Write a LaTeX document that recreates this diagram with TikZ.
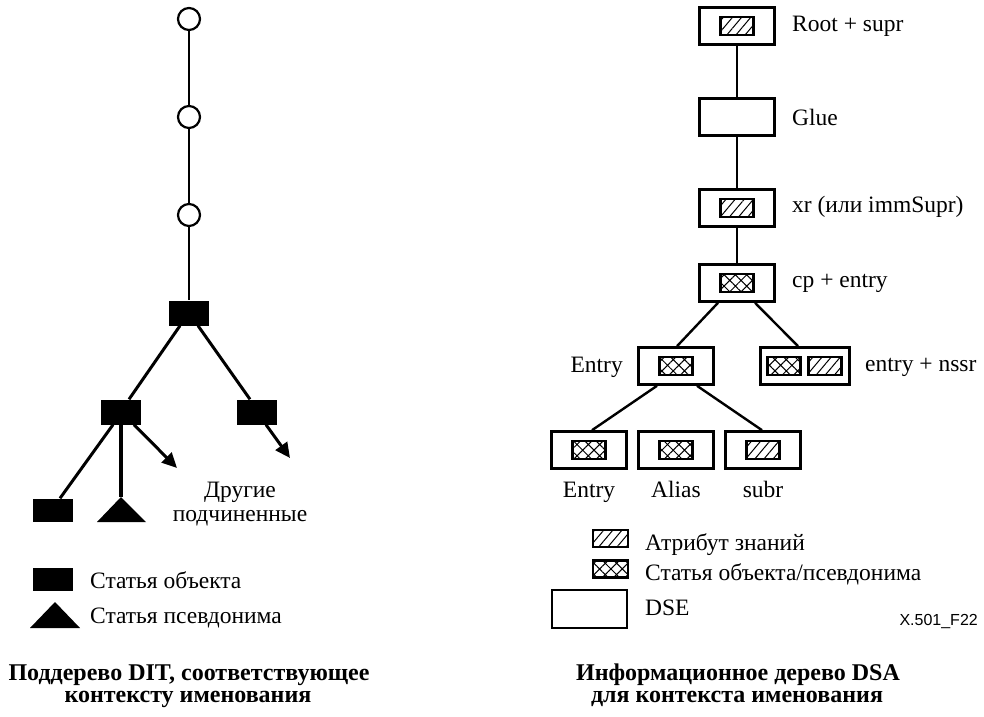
\documentclass[tikz,border=0pt]{standalone}
\usepackage{fontspec}
\setmainfont{Liberation Serif}
\setsansfont{Liberation Sans}
\usetikzlibrary{arrows.meta,patterns.meta,calc}

\begin{document}
\begin{tikzpicture}[x=1pt,y=1pt,
  conn/.style={line width=2.4pt},
  branch/.style={line width=3pt},
  arr/.style={line width=3pt,-{Triangle[length=15pt,width=14pt]}},
  dot/.style={circle,draw,line width=2.2pt,minimum size=22pt,inner sep=0pt,fill=white},
  entryblk/.style={rectangle,fill=black,minimum width=40pt,minimum height=25pt,inner sep=0pt},
  dse/.style={rectangle,draw,line width=2.6pt,minimum width=75pt,minimum height=37pt,inner sep=0pt},
  know/.style={rectangle,draw,line width=2.6pt,minimum width=33pt,minimum height=18pt,inner sep=0pt,
    pattern={Lines[angle=50,distance=7pt,line width=1pt]}},
  objx/.style={rectangle,draw,line width=2.6pt,minimum width=33pt,minimum height=18pt,inner sep=0pt,
    pattern={Hatch[angle=45,distance=8pt,line width=1pt]}},
  lbl/.style={font=\fontsize{23.5}{27}\selectfont,inner sep=0pt},
  captxt/.style={font=\bfseries\fontsize{24}{27}\selectfont,inner sep=0pt},
  tag/.style={font=\sffamily\fontsize{16}{18}\selectfont,inner sep=0pt}]

\useasboundingbox (0,0) rectangle (984,716);

% ---- Subtree of the DIT ----
\node[dot] (c1) at (189,697) {};
\node[dot] (c2) at (189,599) {};
\node[dot] (c3) at (189,501) {};
\node[entryblk] (t) at (189,403) {};
\node[entryblk] (l) at (121,304) {};
\node[entryblk] (r) at (257,304) {};
\node[entryblk,minimum height=23pt] (ll) at (53,206) {};
\coordinate (tri) at (121,219);
\fill (tri) -- (146,194) -- (97,194) -- cycle;
\coordinate (ar1) at (177,248);
\coordinate (ar2) at (290,258);

\draw[conn] (c1) -- (c2);
\draw[conn] (c2) -- (c3);
\draw[conn] (c3) -- (t);
\draw[branch] ([xshift=-9pt]t.south) -- ([xshift=8pt]l.north);
\draw[branch] ([xshift=9pt]t.south) -- ([xshift=-7pt]r.north);
\draw[branch] ([xshift=-8pt]l.south) -- ([xshift=7pt]ll.north);
\draw[line width=4pt] (l.south) -- (tri);
\draw[arr] ([xshift=13pt]l.south) -- (ar1);
\draw[arr] ([xshift=9pt]r.south) -- (ar2);

\node[lbl,anchor=base] (oth1) at (240,219) {Другие};
\node[lbl,anchor=base] (oth2) at (240,195) {подчиненные};

% legend
\node[entryblk,minimum height=23pt] (lgobj) at (53,137) {};
\node[lbl,anchor=base west] (lgobjt) at (90,128) {Статья объекта};
\coordinate (lgtri) at (55,114);
\fill (lgtri) -- (80,88) -- (30,88) -- cycle;
\node[lbl,anchor=base west] (lgtrit) at (90,93) {Статья псевдонима};

% ---- DSA information tree ----
\node[dse] (root) at (737,690) {};
\node[know] (rooti) at (root) {};
\node[dse] (glue) at (737,599) {};
\node[dse] (xr) at (737,508) {};
\node[know] (xri) at (xr) {};
\node[dse] (cp) at (737,433) {};
\node[objx] (cpi) at (cp) {};
\node[dse] (ent) at (676,350) {};
\node[objx] (enti) at (ent) {};
\node[dse,minimum width=89pt] (nssr) at (805,350) {};
\node[objx] (nssra) at (784,350) {};
\node[know] (nssrb) at (825,350) {};
\node[dse] (b1) at (589,266) {};
\node[objx] (b1i) at (b1) {};
\node[dse] (b2) at (676,266) {};
\node[objx] (b2i) at (b2) {};
\node[dse] (b3) at (763,266) {};
\node[know] (b3i) at (b3) {};

\draw[conn] (root) -- (glue);
\draw[conn] (glue) -- (xr);
\draw[conn] (xr) -- (cp);
\draw[conn] ([xshift=-19pt]cp.south) -- ([xshift=1pt]ent.north);
\draw[conn] ([xshift=18pt]cp.south) -- ([xshift=-7pt]nssr.north);
\draw[conn] ([xshift=-19pt]ent.south) -- ([xshift=3pt]b1.north);
\draw[conn] ([xshift=21pt]ent.south) -- ([xshift=-1pt]b3.north);

\node[lbl,anchor=base west] (rootl) at (792,684) {Root + supr};
\node[lbl,anchor=base west] (gluel) at (792,590) {Glue};
\node[lbl,anchor=base west] (xrl) at (792,503) {xr (или immSupr)};
\node[lbl,anchor=base west] (cpl) at (792,429) {cp + entry};
\node[lbl,anchor=base east] (entl) at (623,344) {Entry};
\node[lbl,anchor=base west] (nssrl) at (865,345) {entry + nssr};
\node[lbl,anchor=base] (b1l) at (589,219) {Entry};
\node[lbl,anchor=base] (b2l) at (676,219) {Alias};
\node[lbl,anchor=base] (b3l) at (763,219) {subr};

% legend
\node[know,minimum width=35pt,minimum height=17pt] (lgk) at (610.5,177.5) {};
\node[objx,minimum width=35pt,minimum height=17pt] (lgo) at (610.5,147) {};
\node[dse,minimum height=38pt] (lgd) at (589.5,107) {};
\node[lbl,anchor=base west] (lgkt) at (645,166) {Атрибут знаний};
\node[lbl,anchor=base west] (lgot) at (645,136) {Статья объекта/псевдонима};
\node[lbl,anchor=base west] (lgdt) at (645,101) {DSE};
\node[tag,anchor=base east] (fig) at (978,91) {X.501\_F22};

% ---- captions ----
\node[captxt,anchor=base] (capl1) at (189,36) {Поддерево DIT, соответствующее};
\node[captxt,anchor=base] (capl2) at (188,14) {контексту именования};
\node[captxt,anchor=base] (capr1) at (738,36) {Информационное дерево DSA};
\node[captxt,anchor=base] (capr2) at (737,14) {для контекста именования};
\end{tikzpicture}
\end{document}
